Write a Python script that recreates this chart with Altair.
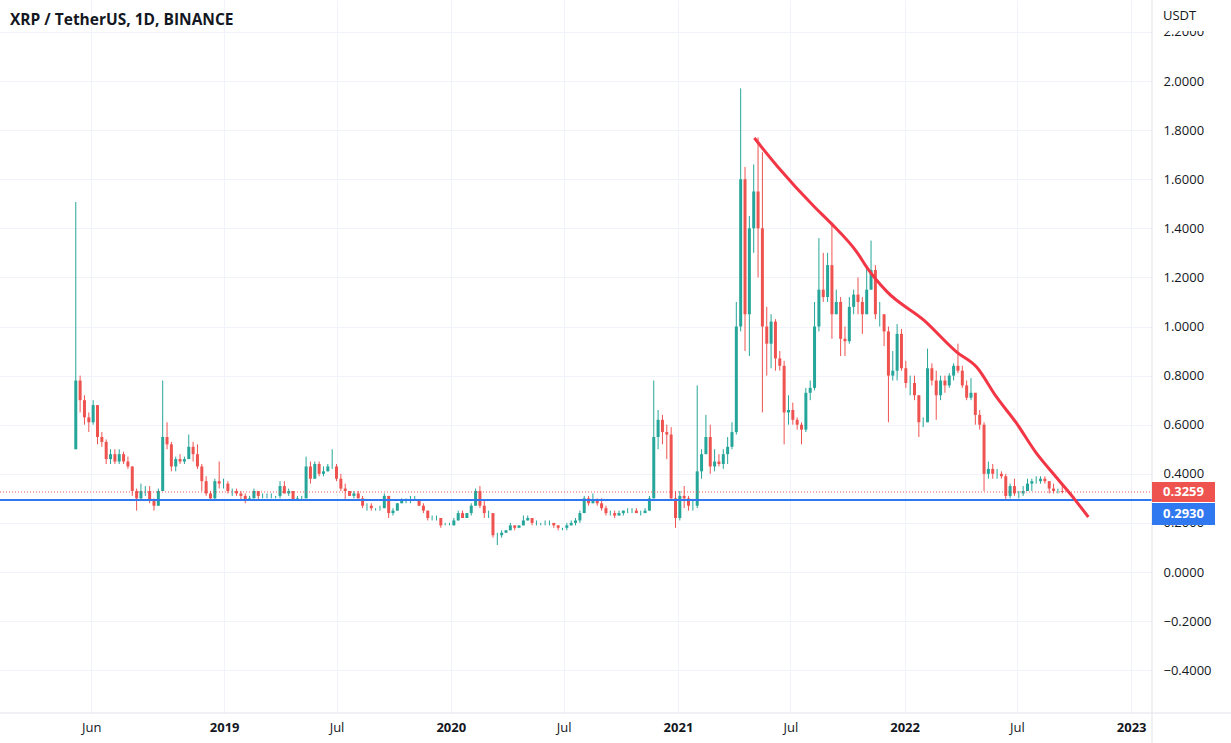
import altair as alt
import pandas as pd

# ---------------- data ----------------
title_text = "XRP / TetherUS, 1D, BINANCE"
week_start = "2018-05-04"      # first candle (Binance listing)
first_open = 0.50

highs = [
    1.507, 0.80, 0.72, 0.65, 0.70, 0.68, 0.57, 0.54, 0.50, 0.50,
    0.50, 0.49, 0.47, 0.43, 0.34, 0.36, 0.35, 0.35, 0.30, 0.34,
    0.78, 0.61, 0.53, 0.47, 0.48, 0.47, 0.56, 0.53, 0.52, 0.44,
    0.39, 0.33, 0.38, 0.45, 0.38, 0.37, 0.34, 0.34, 0.33, 0.32,
    0.31, 0.34, 0.33, 0.32, 0.32, 0.32, 0.31, 0.37, 0.37, 0.34,
    0.33, 0.31, 0.31, 0.47, 0.45, 0.45, 0.45, 0.43, 0.44, 0.50,
    0.44, 0.40, 0.36, 0.33, 0.33, 0.33, 0.31, 0.28, 0.28, 0.26,
    0.27, 0.32, 0.30, 0.26, 0.28, 0.30, 0.30, 0.31, 0.31, 0.29,
    0.28, 0.25, 0.23, 0.23, 0.22, 0.20, 0.20, 0.22, 0.25, 0.25,
    0.24, 0.28, 0.34, 0.35, 0.29, 0.25, 0.24, 0.16, 0.17, 0.17,
    0.20, 0.19, 0.19, 0.23, 0.23, 0.22, 0.21, 0.20, 0.21, 0.21,
    0.20, 0.19, 0.18, 0.20, 0.21, 0.22, 0.25, 0.31, 0.31, 0.32,
    0.30, 0.30, 0.27, 0.25, 0.25, 0.25, 0.25, 0.26, 0.26, 0.26,
    0.25, 0.26, 0.31, 0.78, 0.66, 0.64, 0.60, 0.59, 0.33, 0.33,
    0.35, 0.31, 0.29, 0.76, 0.50, 0.64, 0.60, 0.50, 0.48, 0.50,
    0.55, 0.61, 1.10, 1.97, 1.65, 1.45, 1.66, 1.77, 1.71, 1.08,
    1.05, 1.03, 0.90, 0.86, 0.72, 0.69, 0.63, 0.61, 0.75, 0.78,
    1.10, 1.36, 1.30, 1.30, 1.42, 1.15, 1.12, 1.00, 1.12, 1.15,
    1.20, 1.12, 1.25, 1.35, 1.25, 1.10, 1.05, 1.00, 0.90, 1.01,
    0.99, 0.86, 0.80, 0.80, 0.72, 0.63, 0.91, 0.85, 0.82, 0.80,
    0.80, 0.81, 0.85, 0.93, 0.84, 0.78, 0.79, 0.73, 0.66, 0.61,
    0.45, 0.44, 0.42, 0.41, 0.40, 0.36, 0.38, 0.33, 0.35, 0.38,
    0.38, 0.39, 0.39, 0.39, 0.37, 0.36, 0.34, 0.36,
]
lows = [
    0.50, 0.65, 0.60, 0.57, 0.60, 0.52, 0.51, 0.44, 0.44, 0.44,
    0.44, 0.44, 0.42, 0.31, 0.25, 0.29, 0.31, 0.28, 0.25, 0.27,
    0.33, 0.50, 0.41, 0.41, 0.44, 0.44, 0.46, 0.45, 0.42, 0.33,
    0.31, 0.29, 0.29, 0.34, 0.34, 0.32, 0.31, 0.31, 0.29, 0.28,
    0.29, 0.30, 0.29, 0.30, 0.30, 0.30, 0.30, 0.30, 0.32, 0.31,
    0.29, 0.29, 0.29, 0.30, 0.36, 0.38, 0.39, 0.39, 0.41, 0.42,
    0.37, 0.33, 0.29, 0.31, 0.30, 0.30, 0.26, 0.25, 0.25, 0.25,
    0.25, 0.26, 0.22, 0.23, 0.25, 0.28, 0.28, 0.28, 0.29, 0.27,
    0.24, 0.21, 0.21, 0.21, 0.18, 0.19, 0.19, 0.19, 0.21, 0.22,
    0.22, 0.23, 0.27, 0.26, 0.22, 0.22, 0.14, 0.11, 0.14, 0.16,
    0.17, 0.17, 0.18, 0.19, 0.21, 0.19, 0.19, 0.19, 0.19, 0.19,
    0.18, 0.17, 0.17, 0.17, 0.19, 0.19, 0.20, 0.24, 0.27, 0.28,
    0.27, 0.25, 0.23, 0.23, 0.22, 0.23, 0.23, 0.24, 0.24, 0.24,
    0.23, 0.24, 0.25, 0.30, 0.50, 0.52, 0.46, 0.29, 0.18, 0.21,
    0.26, 0.25, 0.25, 0.26, 0.38, 0.48, 0.40, 0.41, 0.43, 0.42,
    0.44, 0.50, 0.56, 0.98, 0.90, 0.88, 1.30, 1.20, 0.65, 0.80,
    0.83, 0.82, 0.82, 0.52, 0.60, 0.60, 0.58, 0.52, 0.57, 0.70,
    0.74, 0.98, 1.10, 1.10, 0.95, 1.05, 0.88, 0.88, 0.93, 1.05,
    1.05, 0.97, 1.05, 1.15, 1.03, 1.00, 0.92, 0.61, 0.78, 0.78,
    0.82, 0.75, 0.72, 0.70, 0.55, 0.59, 0.61, 0.76, 0.62, 0.70,
    0.73, 0.75, 0.78, 0.81, 0.75, 0.70, 0.70, 0.60, 0.58, 0.33,
    0.38, 0.38, 0.38, 0.38, 0.29, 0.30, 0.31, 0.30, 0.31, 0.33,
    0.33, 0.36, 0.36, 0.36, 0.32, 0.32, 0.32, 0.32,
]
closes = [
    0.78, 0.70, 0.63, 0.61, 0.68, 0.55, 0.53, 0.46, 0.48, 0.45,
    0.48, 0.45, 0.43, 0.33, 0.30, 0.33, 0.33, 0.29, 0.27, 0.33,
    0.55, 0.52, 0.43, 0.46, 0.45, 0.46, 0.51, 0.48, 0.43, 0.37,
    0.32, 0.30, 0.37, 0.36, 0.36, 0.33, 0.33, 0.32, 0.31, 0.29,
    0.30, 0.33, 0.31, 0.31, 0.31, 0.31, 0.31, 0.35, 0.32, 0.33,
    0.29, 0.30, 0.30, 0.43, 0.38, 0.44, 0.40, 0.41, 0.43, 0.43,
    0.38, 0.34, 0.33, 0.31, 0.32, 0.30, 0.27, 0.27, 0.26, 0.26,
    0.26, 0.31, 0.24, 0.25, 0.28, 0.29, 0.29, 0.29, 0.29, 0.27,
    0.25, 0.22, 0.22, 0.22, 0.19, 0.19, 0.19, 0.21, 0.24, 0.22,
    0.24, 0.27, 0.33, 0.27, 0.24, 0.24, 0.15, 0.15, 0.16, 0.17,
    0.19, 0.18, 0.19, 0.21, 0.22, 0.20, 0.20, 0.20, 0.20, 0.20,
    0.19, 0.18, 0.18, 0.19, 0.20, 0.21, 0.24, 0.30, 0.28, 0.29,
    0.28, 0.26, 0.24, 0.24, 0.23, 0.24, 0.25, 0.25, 0.25, 0.24,
    0.24, 0.25, 0.30, 0.55, 0.62, 0.57, 0.56, 0.30, 0.22, 0.31,
    0.30, 0.27, 0.27, 0.41, 0.48, 0.55, 0.43, 0.45, 0.44, 0.48,
    0.51, 0.57, 1.00, 1.60, 1.05, 1.40, 1.55, 1.40, 1.00, 0.93,
    1.02, 0.87, 0.84, 0.65, 0.66, 0.62, 0.60, 0.58, 0.73, 0.75,
    1.00, 1.15, 1.12, 1.25, 1.05, 1.10, 0.95, 0.94, 1.08, 1.13,
    1.10, 1.05, 1.15, 1.23, 1.05, 1.05, 0.98, 0.80, 0.82, 0.97,
    0.83, 0.77, 0.77, 0.72, 0.61, 0.61, 0.83, 0.78, 0.72, 0.78,
    0.76, 0.80, 0.84, 0.82, 0.76, 0.71, 0.73, 0.64, 0.60, 0.40,
    0.42, 0.40, 0.40, 0.39, 0.31, 0.35, 0.32, 0.32, 0.33, 0.36,
    0.37, 0.37, 0.38, 0.37, 0.34, 0.33, 0.33, 0.3259,
]

# hand-drawn red trend curve (date, price)
curve_dates = [
    "2021-05-04", "2021-06-11", "2021-08-09", "2021-09-04", "2021-10-17",
    "2021-11-02", "2021-12-04", "2022-02-01", "2022-03-26", "2022-04-27",
    "2022-05-29", "2022-06-30", "2022-08-01", "2022-09-02", "2022-10-03",
    "2022-10-24",
]
curve_values = [
    1.768, 1.650, 1.487, 1.422, 1.300, 1.238, 1.141, 1.026, 0.896, 0.835,
    0.713, 0.607, 0.485, 0.387, 0.293, 0.224,
]

support_level = 0.2930
last_price = 0.3259
y_ticks = [-0.4, -0.2, 0.0, 0.2, 0.4, 0.6, 0.8, 1.0, 1.2, 1.4, 1.6, 1.8, 2.0, 2.2]
x_ticks = [(2018, 6), (2019, 1), (2019, 7), (2020, 1), (2020, 7), (2021, 1),
           (2021, 7), (2022, 1), (2022, 7), (2023, 1)]

assert len(highs) == len(lows) == len(closes)

# ---------------- frames ----------------
starts = pd.date_range(week_start, periods=len(closes), freq="7D")
centers = starts + pd.Timedelta(days=3)
opens = [first_open] + closes[:-1]
candles = pd.DataFrame({
    "t": centers.strftime("%Y-%m-%d"),
    "open": opens, "high": highs, "low": lows, "close": closes,
})
curve = pd.DataFrame({"t": curve_dates, "v": curve_values})
one = pd.DataFrame({"a": [0]})

GREEN = "#26a69a"
RED = "#ef5350"
BLUE = "#2f78f0"
GRID = "#f0f3fa"
BORDER = "#e0e3eb"
FONT = "Open Sans"
TXT = "#131722"

x_scale = alt.Scale(
    type="utc",
    domain=[alt.DateTime(year=2018, month=1, date=13, utc=True),
            alt.DateTime(year=2023, month=1, date=26, hours=12, utc=True)],
)
y_scale = alt.Scale(domain=[-0.5743, 2.330], nice=False, zero=False)

x_axis = alt.Axis(
    orient="bottom",
    values=[alt.DateTime(year=y, month=m, date=1, utc=True) for y, m in x_ticks],
    labelExpr="utcmonth(datum.value) == 0 ? utcFormat(datum.value, '%Y') : utcFormat(datum.value, '%b')",
    labelFontWeight={"condition": {"test": "utcmonth(datum.value) == 0", "value": "bold"},
                     "value": "normal"},
    ticks=False, domain=False, grid=True, gridColor=GRID, gridWidth=1,
    labelPadding=8, labelFontSize=13, labelFont=FONT, labelColor=TXT,
    labelFlush=False, labelOverlap=False, title=None, zindex=0,
)
y_axis = alt.Axis(
    orient="right", values=y_ticks, format=".4f",
    labelAlign="left", labelBaseline="middle", labelPadding=11,
    ticks=False, domain=False, grid=True, gridColor=GRID, gridWidth=1,
    labelFontSize=13, labelFont=FONT, labelColor=TXT,
    labelFlush=False, labelOverlap=False, title=None, zindex=0,
)

color_cond = alt.condition("datum.open <= datum.close", alt.value(GREEN), alt.value(RED))

wicks = alt.Chart(candles).mark_rule(strokeWidth=1).encode(
    x=alt.X("t:T", scale=x_scale, axis=x_axis, title=None),
    y=alt.Y("low:Q", scale=y_scale, axis=y_axis, title=None),
    y2="high:Q",
    color=color_cond,
)
bodies = alt.Chart(candles).mark_bar(size=3).encode(
    x=alt.X("t:T", title=None),
    y=alt.Y("open:Q", title=None),
    y2="close:Q",
    color=color_cond,
)

support = alt.Chart(one).mark_rule(color=BLUE, strokeWidth=2).encode(
    y=alt.datum(support_level), x=alt.value(0), x2=alt.value(1152)
)
last_line = alt.Chart(one).mark_rule(color=RED, strokeWidth=1, strokeDash=[1, 2]).encode(
    y=alt.datum(last_price), x=alt.value(0), x2=alt.value(1152)
)
trend = alt.Chart(curve).mark_line(color="#f23645", strokeWidth=3, interpolate="monotone").encode(
    x=alt.X("t:T", title=None),
    y=alt.Y("v:Q", title=None),
)

# frame lines
vline = alt.Chart(one).mark_rule(color=BORDER, strokeWidth=1).encode(
    x=alt.value(1152), y=alt.value(0), y2=alt.value(743)
)
hline = alt.Chart(one).mark_rule(color=BORDER, strokeWidth=1).encode(
    y=alt.value(713), x=alt.value(0), x2=alt.value(1231)
)

# title and unit label (the unit box hides most of the 2.2000 label, as in the reference)
title = alt.Chart(one).mark_text(
    text=title_text, align="left", baseline="middle", fontSize=15.5,
    fontWeight="bold", font=FONT, color=TXT
).encode(x=alt.value(10), y=alt.value(20))
unit_bg = alt.Chart(one).mark_rect(color="white").encode(
    x=alt.value(1153), x2=alt.value(1231), y=alt.value(0), y2=alt.value(31)
)
unit = alt.Chart(one).mark_text(
    text="USDT", align="left", baseline="middle", fontSize=13, font=FONT, color=TXT
).encode(x=alt.value(1163), y=alt.value(16))

# price tags on the scale
red_tag = alt.Chart(one).mark_rect(color=RED).encode(
    x=alt.value(1152), x2=alt.value(1215), y=alt.value(482), y2=alt.value(502)
)
red_txt = alt.Chart(one).mark_text(
    text=f"{last_price:.4f}", align="center", baseline="middle", fontSize=13,
    fontWeight="bold", font=FONT, color="white"
).encode(x=alt.value(1183.5), y=alt.value(492))
blue_tag = alt.Chart(one).mark_rect(color=BLUE).encode(
    x=alt.value(1152), x2=alt.value(1215), y=alt.value(503), y2=alt.value(525)
)
blue_txt = alt.Chart(one).mark_text(
    text=f"{support_level:.4f}", align="center", baseline="middle", fontSize=13,
    fontWeight="bold", font=FONT, color="white"
).encode(x=alt.value(1183.5), y=alt.value(514))

chart = alt.layer(
    wicks, bodies, last_line, support, trend, vline, hline,
    title, unit_bg, unit, red_tag, red_txt, blue_tag, blue_txt,
).properties(
    width=1152, height=713,
    padding={"left": 0, "top": 0, "right": 79, "bottom": 30},
    autosize=alt.AutoSizeParams(type="none"),
    background="white",
).configure_view(strokeWidth=0)

chart.save("out.html", embed_options={"renderer": "svg", "actions": False})
